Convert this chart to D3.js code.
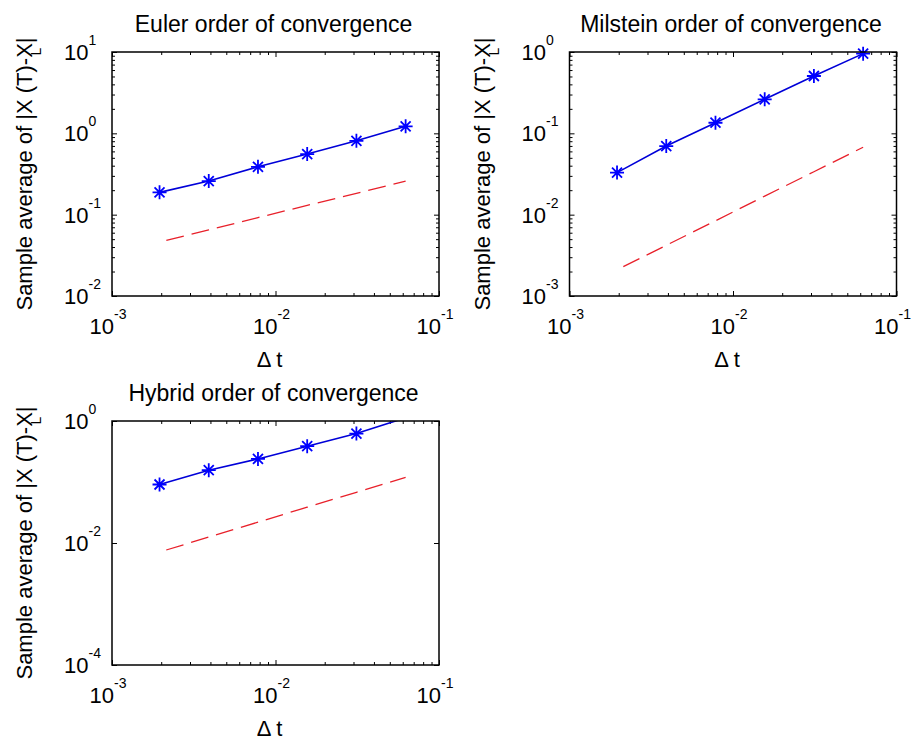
<!DOCTYPE html>
<html><head><meta charset="utf-8">
<script src="https://cdn.jsdelivr.net/npm/d3@7"></script>
<style>
body{margin:0;background:#fff}
svg{display:block}
text{font-family:"Liberation Sans",Arial,Helvetica,sans-serif;fill:#000}
</style>
</head><body>
<svg id="chart" width="920" height="742"></svg>
<script>
// ---- data ----
const dt = [0.001953125, 0.00390625, 0.0078125, 0.015625, 0.03125, 0.0625];
const panelTitles = ["Euler order of convergence", "Milstein order of convergence", "Hybrid order of convergence"];
const eulerError    = [0.188, 0.259, 0.388, 0.556, 0.81, 1.22];
const eulerRef      = [0.046, 0.065, 0.092, 0.13, 0.183, 0.258];
const milsteinError = [0.0329, 0.0698, 0.135, 0.262, 0.507, 0.955];
const milsteinRef   = [0.0021, 0.0042, 0.0084, 0.0169, 0.0337, 0.0675];
const hybridError   = [0.091, 0.156, 0.239, 0.386, 0.622, 1.13];
const hybridRef     = [0.00711, 0.0125, 0.022, 0.0386, 0.0679, 0.119];
const xTickExponents = [-3, -2, -1];
const eulerYTickExponents = [-2, -1, 0, 1];
const milsteinYTickExponents = [-3, -2, -1, 0];
const hybridYTickExponents = [-4, -2, 0];
const xLabelText = "\u0394 t";
const yLabelMain = "Sample average of |X (T)-X|";
const yLabelSub = "L";

// ---- layout ----
const panels = [
  {title: panelTitles[0], err: eulerError, ref: eulerRef, yExp: eulerYTickExponents, minorY: true,
   left: 112, top: 52, width: 327, height: 244},
  {title: panelTitles[1], err: milsteinError, ref: milsteinRef, yExp: milsteinYTickExponents, minorY: true,
   left: 569.5, top: 52, width: 327, height: 244},
  {title: panelTitles[2], err: hybridError, ref: hybridRef, yExp: hybridYTickExponents, minorY: false,
   left: 112, top: 421, width: 327, height: 244}
];

const svg = d3.select("#chart");
svg.append("rect").attr("width", 920).attr("height", 742).attr("fill", "#fff");

function minorTicks(lo, hi) {
  const out = [];
  for (let k = lo; k < hi; k++) for (let m = 2; m <= 9; m++) out.push(m * Math.pow(10, k));
  return out;
}

panels.forEach((p, i) => {
  const yMin = d3.min(p.yExp), yMax = d3.max(p.yExp);
  const x = d3.scaleLog().domain([1e-3, 1e-1]).range([p.left, p.left + p.width]);
  const y = d3.scaleLog().domain([Math.pow(10, yMin), Math.pow(10, yMax)]).range([p.top + p.height, p.top]);
  const g = svg.append("g");

  g.append("rect").attr("x", p.left).attr("y", p.top).attr("width", p.width).attr("height", p.height)
    .attr("fill", "#fff");

  const clipId = "clip" + i;
  svg.append("clipPath").attr("id", clipId).append("rect")
    .attr("x", p.left).attr("y", p.top).attr("width", p.width).attr("height", p.height);

  const xMajor = xTickExponents.map(e => Math.pow(10, e));
  const xMinor = minorTicks(-3, -1);
  const yMajor = p.yExp.map(e => Math.pow(10, e));
  const yMinor = p.minorY ? minorTicks(yMin, yMax) : [];

  const mkAxis = (gen, scale, vals, size, tr) => {
    const a = g.append("g").attr("transform", tr)
      .call(gen(scale).tickValues(vals).tickSize(size).tickFormat(""));
    a.select(".domain").remove();
    a.selectAll("line").attr("stroke", "#000").attr("stroke-width", 1);
  };
  // bottom / top
  mkAxis(d3.axisBottom, x, xMajor, -5, `translate(0,${p.top + p.height})`);
  mkAxis(d3.axisBottom, x, xMinor, -3, `translate(0,${p.top + p.height})`);
  mkAxis(d3.axisTop, x, xMajor, -5, `translate(0,${p.top})`);
  mkAxis(d3.axisTop, x, xMinor, -3, `translate(0,${p.top})`);
  // left / right
  mkAxis(d3.axisLeft, y, yMajor, -5, `translate(${p.left},0)`);
  mkAxis(d3.axisRight, y, yMajor, -5, `translate(${p.left + p.width},0)`);
  if (yMinor.length) {
    mkAxis(d3.axisLeft, y, yMinor, -3, `translate(${p.left},0)`);
    mkAxis(d3.axisRight, y, yMinor, -3, `translate(${p.left + p.width},0)`);
  }

  // reference (red dashed)
  const line = d3.line().x((d, j) => x(dt[j])).y(d => y(d));
  g.append("path").datum(p.ref).attr("d", line).attr("clip-path", `url(#${clipId})`)
    .attr("fill", "none").attr("stroke", "#e8202a").attr("stroke-width", 1.3)
    .attr("stroke-dasharray", "18,8").attr("stroke-dashoffset", 19);

  // error (blue solid + asterisk markers)
  g.append("path").datum(p.err).attr("d", line).attr("clip-path", `url(#${clipId})`)
    .attr("fill", "none").attr("stroke", "#0000d8").attr("stroke-width", 1.6);
  const yDom = y.domain();
  g.selectAll(".mk").data(p.err.map((v, j) => ({v, t: dt[j]})).filter(d => d.v >= yDom[0] && d.v <= yDom[1]))
    .enter().append("path")
    .attr("transform", d => `translate(${x(d.t)},${y(d.v)})`)
    .attr("d", "M-7,0H7M0,-7V7M-5,-5L5,5M-5,5L5,-5")
    .attr("fill", "none").attr("stroke", "#0000ff").attr("stroke-width", 1.8);

  // box
  g.append("rect").attr("x", p.left).attr("y", p.top).attr("width", p.width).attr("height", p.height)
    .attr("fill", "none").attr("stroke", "#000").attr("stroke-width", 1.5);

  // x tick labels
  xTickExponents.forEach(e => {
    const t = g.append("text").attr("x", x(Math.pow(10, e)) - 4).attr("y", p.top + p.height + 38)
      .attr("text-anchor", "middle");
    t.append("tspan").attr("font-size", 22).text("10");
    t.append("tspan").attr("font-size", 14).attr("dy", -15).text(String(e));
  });
  // y tick labels
  p.yExp.forEach(e => {
    const t = g.append("text").attr("x", p.left - 48).attr("y", y(Math.pow(10, e)) + 8)
      .attr("text-anchor", "start");
    t.append("tspan").attr("font-size", 22).text("10");
    t.append("tspan").attr("font-size", 14).attr("dy", -15).text(String(e));
  });

  // title
  g.append("text").attr("x", p.left + p.width / 2 - 2).attr("y", p.top - 20)
    .attr("text-anchor", "middle").attr("font-size", 23).text(p.title);
  // x label
  g.append("text").attr("x", p.left + p.width / 2 - 6).attr("y", p.top + p.height + 71)
    .attr("text-anchor", "middle").attr("font-size", 22).text(xLabelText);
  // y label
  const cy = p.top + p.height / 2;
  const yl = g.append("text").attr("transform", `translate(${p.left - 80},${cy}) rotate(-90)`)
    .attr("text-anchor", "middle").attr("font-size", 22);
  yl.append("tspan").text(yLabelMain);
  yl.append("tspan").attr("font-size", 14).attr("dx", -18).attr("dy", 9).text(yLabelSub);
});
</script>
</body></html>
